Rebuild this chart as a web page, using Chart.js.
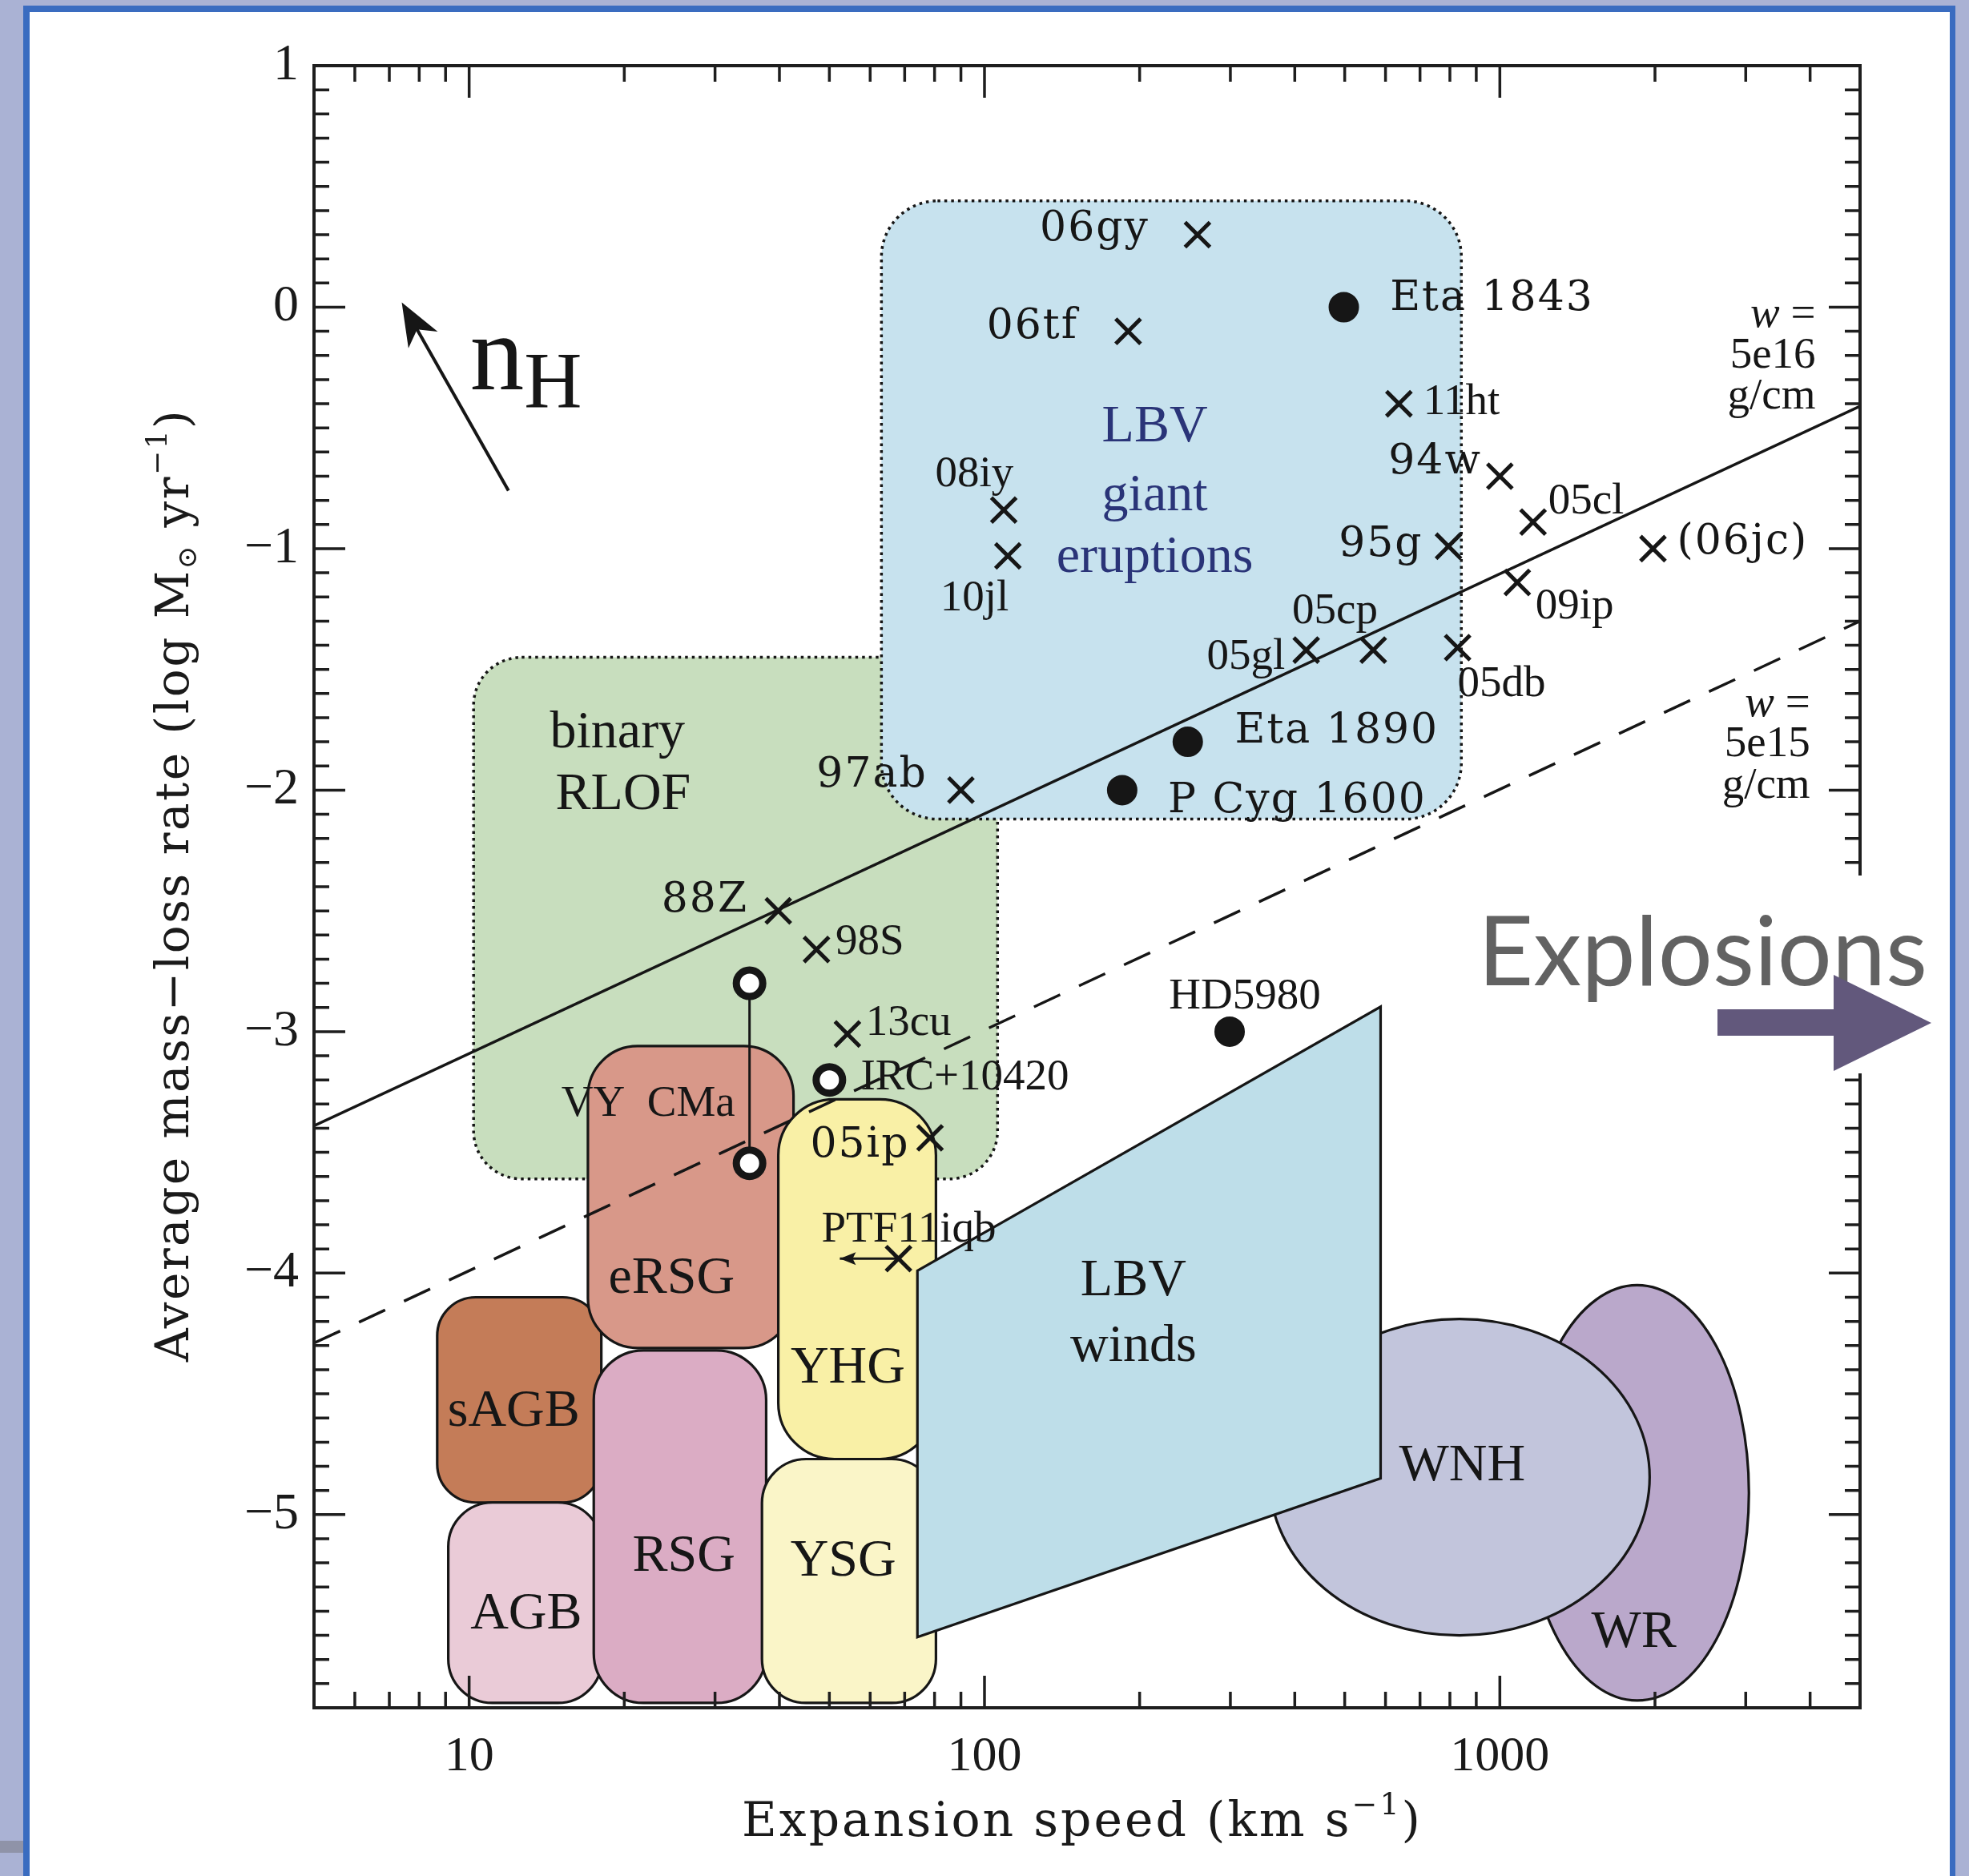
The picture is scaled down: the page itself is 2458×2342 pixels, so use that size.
<!DOCTYPE html>
<html>
<head>
<meta charset="utf-8">
<script src="https://cdn.jsdelivr.net/npm/chart.js@4.4.1/dist/chart.umd.min.js"></script>
<style>
  html, body { margin: 0; padding: 0; background: #aab2d4; }
  canvas { display: block; }
</style>
</head>
<body>
<canvas id="c" width="2458" height="2342"></canvas>
<script>
// ---------------------------------------------------------------------------
// Data: expansion speed (km/s) versus average mass-loss rate (log Msun/yr)
// ---------------------------------------------------------------------------
const xTickValues = [10, 100, 1000];
const yTickValues = [1, 0, -1, -2, -3, -4, -5];

// objects marked with a cross
const crossNames = ['06gy', '06tf', '11ht', '94w', '05cl', '(06jc)', '95g', '09ip', '08iy', '10jl',
                    '05gl', '05cp', '05db', '97ab', '88Z', '98S', '13cu', '05ip', 'PTF11iqb'];
const crossSpeed = [259, 190, 637, 1000, 1160, 1982, 795, 1081, 109, 111,
                    421, 568, 828, 90, 39.8, 47.2, 54.2, 78.4, 68.1];
const crossRate  = [0.30, -0.10, -0.40, -0.70, -0.89, -1.00, -0.99, -1.14, -0.84, -1.03,
                    -1.42, -1.42, -1.41, -2.00, -2.50, -2.66, -3.01, -3.44, -3.94];

// objects marked with a filled dot
const dotNames = ['Eta 1843', 'Eta 1890', 'P Cyg 1600', 'HD5980'];
const dotSpeed = [498, 248, 185, 299];
const dotRate  = [0.00, -1.80, -2.00, -3.00];

// objects marked with an open ring (VY CMa has two estimates joined by a line)
const ringNames = ['VY CMa', 'VY CMa', 'IRC+10420'];
const ringSpeed = [35, 35, 50];
const ringRate  = [-2.80, -3.545, -3.20];

// lines of constant wind density parameter w
const windSpeed  = [5, 5000];
const windRate16 = [-3.39, -0.41];   // w = 5e16 g/cm
const windRate15 = [-4.29, -1.30];   // w = 5e15 g/cm

// PTF11iqb speed range arrow
const ptfArrowSpeed = [68.1, 52.4];
const ptfArrowRate  = [-3.94, -3.94];

// direction of increasing density n_H
const nHArrowSpeed = [11.92, 7.40];
const nHArrowRate  = [-0.76, 0.02];

// rounded-box regions
const boxNames   = ['binary RLOF', 'LBV giant eruptions', 'sAGB', 'AGB', 'RSG', 'eRSG', 'YSG', 'YHG'];
const boxSpeedLo = [10.2, 63.1, 8.67, 9.11, 17.45, 17.0, 37.0, 39.8];
const boxSpeedHi = [106, 842, 18.05, 18.1, 37.7, 42.6, 80.5, 80.5];
const boxRateLo  = [-3.61, -2.12, -4.95, -5.78, -5.78, -4.31, -5.78, -4.77];
const boxRateHi  = [-1.45, 0.44, -4.10, -4.95, -4.32, -3.06, -4.77, -3.28];

// oval regions
const ovalNames   = ['WR', 'WNH'];
const ovalSpeedLo = [1121, 357];
const ovalSpeedHi = [3043, 1953];
const ovalRateLo  = [-5.77, -5.50];
const ovalRateHi  = [-4.05, -4.19];

// LBV winds quadrilateral
const lbvWindSpeed = [74.1, 587, 587, 74.1];
const lbvWindRate  = [-3.99, -2.897, -4.85, -5.507];

// ---------------------------------------------------------------------------
// Styling
// ---------------------------------------------------------------------------
const boxStyle = {
  'binary RLOF':         { fill: '#c8debe', dotted: true,  r: 60 },
  'LBV giant eruptions': { fill: '#c7e2ee', dotted: true,  r: 70 },
  'sAGB':                { fill: '#c47c58', dotted: false, r: 48 },
  'AGB':                 { fill: '#eacbd7', dotted: false, r: 55 },
  'RSG':                 { fill: '#dbacc4', dotted: false, r: 62 },
  'eRSG':                { fill: '#d89889', dotted: false, r: 62 },
  'YSG':                 { fill: '#faf5c8', dotted: false, r: 55 },
  'YHG':                 { fill: '#f9f0a6', dotted: false, r: 70 }
};
const ovalFill = { 'WR': '#baa8cb', 'WNH': '#c2c5dc' };
const lbvWindFill = '#bedee9';
const ink = '#161616';

const SERIF = '"Liberation Serif", "Times New Roman", serif';
const WIDE = '"DejaVu Serif", serif';
const textKinds = {
  big:      { font: '52px ' + WIDE,  cap: 0.365 * 52, color: ink, spacing: '2px' },
  small:    { font: '55px ' + SERIF, cap: 0.33 * 55,  color: ink, spacing: '0px' },
  region:   { font: '66px ' + SERIF, cap: 0.33 * 66,  color: ink, spacing: '0px' },
  eruption: { font: '66px ' + SERIF, cap: 0.33 * 66,  color: '#2a3478', spacing: '0px' }
};

// text annotations: [text, speed, rate, align, kind]
const notes = [
  ['06gy', 209, 0.34, 'right', 'big'],
  ['06tf', 152, -0.065, 'right', 'big'],
  ['Eta 1843', 612, 0.05, 'left', 'big'],
  ['94w', 923, -0.625, 'right', 'big'],
  ['95g', 710, -0.967, 'right', 'big'],
  ['(06jc)', 2206, -0.957, 'left', 'big'],
  ['Eta 1890', 306, -1.741, 'left', 'big'],
  ['P Cyg 1600', 227, -2.027, 'left', 'big'],
  ['97ab', 77.5, -1.924, 'right', 'big'],
  ['88Z', 34.8, -2.44, 'right', 'big'],
  ['05ip', 45.9, -3.454, 'left', 'big'],
  ['11ht', 710, -0.384, 'left', 'small'],
  ['05cl', 1241, -0.795, 'left', 'small'],
  ['09ip', 1172, -1.227, 'left', 'small'],
  ['08iy', 95.6, -0.68, 'center', 'small'],
  ['10jl', 95.6, -1.195, 'center', 'small'],
  ['05cp', 478.6, -1.248, 'center', 'small'],
  ['05gl', 383, -1.436, 'right', 'small'],
  ['05db', 828, -1.55, 'left', 'small'],
  ['98S', 51.4, -2.62, 'left', 'small'],
  ['13cu', 58.8, -2.955, 'left', 'small'],
  ['IRC+10420', 57.5, -3.18, 'left', 'small'],
  ['VY  CMa', 15.1, -3.29, 'left', 'small'],
  ['PTF11iqb', 71.3, -3.81, 'center', 'small'],
  ['HD5980', 320, -2.845, 'center', 'small'],
  ['LBV', 214, -0.485, 'center', 'eruption'],
  ['giant', 214, -0.77, 'center', 'eruption'],
  ['eruptions', 214, -1.023, 'center', 'eruption'],
  ['binary', 19.4, -1.75, 'center', 'region'],
  ['RLOF', 19.9, -2.007, 'center', 'region'],
  ['eRSG', 24.7, -4.01, 'center', 'region'],
  ['sAGB', 12.2, -4.56, 'center', 'region'],
  ['AGB', 12.9, -5.40, 'center', 'region'],
  ['RSG', 26.1, -5.16, 'center', 'region'],
  ['YHG', 54.3, -4.38, 'center', 'region'],
  ['YSG', 53.2, -5.18, 'center', 'region'],
  ['LBV', 194.5, -4.02, 'center', 'region'],
  ['winds', 194.5, -4.29, 'center', 'region'],
  ['WNH', 845, -4.785, 'center', 'region'],
  ['WR', 1820, -5.475, 'center', 'region'],
  ['5e16', 4100, -0.19, 'right', 'small'],
  ['g/cm', 4100, -0.36, 'right', 'small'],
  ['5e15', 4000, -1.80, 'right', 'small'],
  ['g/cm', 4000, -1.97, 'right', 'small']
];
// "w =" headers of the two density labels: [speed, rate]
const wHeaders = [[4100, -0.02], [4000, -1.632]];

// ---------------------------------------------------------------------------
// Helpers
// ---------------------------------------------------------------------------
function roundRect(c, x1, y1, x2, y2, r) {
  r = Math.min(r, (x2 - x1) / 2, (y2 - y1) / 2);
  c.beginPath();
  c.moveTo(x1 + r, y1);
  c.lineTo(x2 - r, y1);
  c.arcTo(x2, y1, x2, y1 + r, r);
  c.lineTo(x2, y2 - r);
  c.arcTo(x2, y2, x2 - r, y2, r);
  c.lineTo(x1 + r, y2);
  c.arcTo(x1, y2, x1, y2 - r, r);
  c.lineTo(x1, y1 + r);
  c.arcTo(x1, y1, x1 + r, y1, r);
  c.closePath();
}

// draws a run of [text, fontSize, dy] pieces centred on x (baseline y)
function drawRun(c, pieces, family, x, y, spacing) {
  c.letterSpacing = spacing || '0px';
  let total = 0;
  for (const p of pieces) { c.font = p[1] + 'px ' + family; total += c.measureText(p[0]).width; }
  let cx = x - total / 2;
  c.textAlign = 'left';
  c.textBaseline = 'alphabetic';
  for (const p of pieces) {
    c.font = p[1] + 'px ' + family;
    c.fillText(p[0], cx, y + p[2]);
    cx += c.measureText(p[0]).width;
  }
  c.letterSpacing = '0px';
}

function arrowHead(c, tx, ty, fx, fy, len, half, notch) {
  const dx = tx - fx, dy = ty - fy, L = Math.hypot(dx, dy);
  const ux = dx / L, uy = dy / L, px = -uy, py = ux;
  const bx = tx - ux * len, by = ty - uy * len;
  c.beginPath();
  c.moveTo(tx, ty);
  c.lineTo(bx + px * half, by + py * half);
  c.lineTo(tx - ux * len * notch, ty - uy * len * notch);
  c.lineTo(bx - px * half, by - py * half);
  c.closePath();
  c.fill();
}

// ---------------------------------------------------------------------------
// Plugins
// ---------------------------------------------------------------------------
const pagePlugin = {
  id: 'page',
  beforeDraw(chart) {
    const c = chart.ctx, W = chart.width, H = chart.height;
    c.save();
    c.fillStyle = '#aab2d4'; c.fillRect(0, 0, W, H);
    c.fillStyle = '#3a6cc0'; c.fillRect(29, 7, 2441 - 29, H - 7);
    c.fillStyle = '#ffffff'; c.fillRect(37, 15, 2434 - 37, H - 15);
    c.fillStyle = '#8f93a8'; c.fillRect(0, 2298, 29, 15);
    c.restore();
  }
};

const regionPlugin = {
  id: 'regions',
  beforeDatasetsDraw(chart) {
    const c = chart.ctx, a = chart.chartArea, X = chart.scales.x, Y = chart.scales.y;
    c.save();
    c.beginPath(); c.rect(a.left, a.top, a.right - a.left, a.bottom - a.top); c.clip();
    c.strokeStyle = ink;

    const box = i => {
      const s = boxStyle[boxNames[i]];
      const x1 = X.getPixelForValue(boxSpeedLo[i]), x2 = X.getPixelForValue(boxSpeedHi[i]);
      const y1 = Y.getPixelForValue(boxRateHi[i]), y2 = Y.getPixelForValue(boxRateLo[i]);
      roundRect(c, x1, y1, x2, y2, s.r);
      c.fillStyle = s.fill; c.fill();
      if (s.dotted) { c.setLineDash([3.5, 5]); c.lineWidth = 3.5; }
      else { c.setLineDash([]); c.lineWidth = 3.2; }
      c.stroke();
      c.setLineDash([]);
    };
    const oval = i => {
      const x1 = X.getPixelForValue(ovalSpeedLo[i]), x2 = X.getPixelForValue(ovalSpeedHi[i]);
      const y1 = Y.getPixelForValue(ovalRateHi[i]), y2 = Y.getPixelForValue(ovalRateLo[i]);
      c.beginPath();
      c.ellipse((x1 + x2) / 2, (y1 + y2) / 2, (x2 - x1) / 2, (y2 - y1) / 2, 0, 0, Math.PI * 2);
      c.fillStyle = ovalFill[ovalNames[i]]; c.fill();
      c.lineWidth = 3.2; c.stroke();
    };

    box(0); box(1);
    oval(0); oval(1);
    for (let i = 2; i < boxNames.length; i++) box(i);

    c.beginPath();
    lbvWindSpeed.forEach((v, k) => {
      const px = X.getPixelForValue(v), py = Y.getPixelForValue(lbvWindRate[k]);
      if (k === 0) c.moveTo(px, py); else c.lineTo(px, py);
    });
    c.closePath();
    c.fillStyle = lbvWindFill; c.fill();
    c.lineWidth = 3.2; c.stroke();
    c.restore();
  }
};

const overlayPlugin = {
  id: 'overlay',
  afterDatasetsDraw(chart) {
    const c = chart.ctx, a = chart.chartArea, X = chart.scales.x, Y = chart.scales.y;
    c.save();

    // frame with inward ticks on all four sides
    c.strokeStyle = '#1e1e1e';
    c.lineWidth = 4;
    c.strokeRect(a.left, a.top, a.right - a.left, a.bottom - a.top);
    c.lineWidth = 3.5;
    c.beginPath();
    for (let d = 1; d <= 1000; d *= 10) {
      for (let k = 1; k < 10; k++) {
        const v = k * d;
        if (v <= X.min || v >= X.max) continue;
        const px = X.getPixelForValue(v), len = k === 1 ? 40 : 20;
        c.moveTo(px, a.bottom); c.lineTo(px, a.bottom - len);
        c.moveTo(px, a.top); c.lineTo(px, a.top + len);
      }
    }
    for (let i = -57; i <= 9; i++) {
      const py = Y.getPixelForValue(i / 10), len = i % 10 === 0 ? 39 : 19;
      c.moveTo(a.left, py); c.lineTo(a.left + len, py);
      c.moveTo(a.right, py); c.lineTo(a.right - len, py);
    }
    c.stroke();

    // arrowhead of the PTF11iqb speed range
    c.fillStyle = ink;
    arrowHead(c, X.getPixelForValue(ptfArrowSpeed[1]), Y.getPixelForValue(ptfArrowRate[1]),
              X.getPixelForValue(ptfArrowSpeed[0]), Y.getPixelForValue(ptfArrowRate[0]), 20, 8, 0.8);

    // n_H direction arrow
    const tx = X.getPixelForValue(nHArrowSpeed[1]), ty = Y.getPixelForValue(nHArrowRate[1]);
    const fx = X.getPixelForValue(nHArrowSpeed[0]), fy = Y.getPixelForValue(nHArrowRate[0]);
    c.strokeStyle = ink; c.lineWidth = 4;
    c.beginPath(); c.moveTo(fx, fy); c.lineTo(tx - (tx - fx) * 0.12, ty - (ty - fy) * 0.12); c.stroke();
    arrowHead(c, tx, ty, fx, fy, 54, 21, 0.72);

    c.fillStyle = ink;
    c.textAlign = 'left'; c.textBaseline = 'alphabetic';
    c.font = '135px ' + SERIF;
    const nx = X.getPixelForValue(10.04), ny = Y.getPixelForValue(-0.34);
    c.fillText('n', nx, ny);
    const nw = c.measureText('n').width;
    c.font = '100px ' + SERIF;
    c.fillText('H', nx + nw, ny + 22);

    // labels
    for (const [t, sx, sy, align, kind] of notes) {
      const k = textKinds[kind];
      c.font = k.font; c.fillStyle = k.color; c.letterSpacing = k.spacing;
      c.textAlign = align; c.textBaseline = 'alphabetic';
      c.fillText(t, X.getPixelForValue(sx), Y.getPixelForValue(sy) + k.cap);
    }
    c.letterSpacing = '0px';

    // "w =" headers (italic w)
    for (const [sx, sy] of wHeaders) {
      const rx = X.getPixelForValue(sx), by = Y.getPixelForValue(sy) + textKinds.small.cap;
      c.fillStyle = ink; c.textAlign = 'right';
      c.font = '55px ' + SERIF;
      c.fillText(' =', rx, by);
      const eqw = c.measureText(' =').width;
      c.font = 'italic 55px ' + SERIF;
      c.fillText('w', rx - eqw, by);
    }
    c.restore();
  },
  afterDraw(chart) {
    const c = chart.ctx, a = chart.chartArea;
    c.save();
    c.fillStyle = '#1a1a1a';

    // axis titles
    const cx = (a.left + a.right) / 2 - 6;
    drawRun(c, [['Expansion speed (km s', 60, 0], ['\u22121', 38, -27], [')', 60, 0]],
            WIDE, cx, a.bottom + 160, '3px');

    c.save();
    c.translate(a.left - 157, (a.top + a.bottom) / 2 - 2);
    c.rotate(-Math.PI / 2);
    drawRun(c, [['Average mass\u2212loss rate (log M', 58, 0], ['\u2299', 34, 10],
                [' yr', 58, 0], ['\u22121', 36, -27], [')', 58, 0]],
            WIDE, 0, 0, '2.5px');
    c.restore();

    // "Explosions" call-out
    c.fillStyle = '#ffffff';
    c.fillRect(1835, 1093, 2432 - 1835, 1340 - 1093);
    c.fillStyle = '#626262';
    c.textAlign = 'left'; c.textBaseline = 'alphabetic';
    let size = 118;
    c.font = size + 'px Lato, "Open Sans", sans-serif';
    const w = c.measureText('Explosions').width;
    size = size * 561 / w;
    c.font = size + 'px Lato, "Open Sans", sans-serif';
    c.fillText('Explosions', 1845, 1230);

    c.fillStyle = '#62587c';
    c.fillRect(2144, 1260, 2290 - 2144, 1293 - 1260);
    c.beginPath();
    c.moveTo(2289, 1217); c.lineTo(2411, 1277); c.lineTo(2289, 1337); c.closePath();
    c.fill();
    c.restore();
  }
};

// ---------------------------------------------------------------------------
// Chart
// ---------------------------------------------------------------------------
const toXY = (xs, ys) => xs.map((v, i) => ({ x: v, y: ys[i] }));

new Chart(document.getElementById('c').getContext('2d'), {
  type: 'scatter',
  data: {
    datasets: [
      { label: 'crosses', data: toXY(crossSpeed, crossRate), pointStyle: 'crossRot',
        pointRadius: 22, borderWidth: 5, borderColor: ink, backgroundColor: ink },
      { label: 'dots', data: toXY(dotSpeed, dotRate), pointStyle: 'circle',
        pointRadius: 18, borderWidth: 2, borderColor: ink, backgroundColor: ink },
      { label: 'rings', data: toXY(ringSpeed, ringRate), pointStyle: 'circle',
        pointRadius: 16.5, borderWidth: 9, borderColor: ink, backgroundColor: '#ffffff' },
      { label: 'VY CMa range', data: toXY(ringSpeed.slice(0, 2), ringRate.slice(0, 2)),
        showLine: true, pointRadius: 0, borderWidth: 3, borderColor: ink },
      { label: 'PTF11iqb range', data: toXY(ptfArrowSpeed, ptfArrowRate),
        showLine: true, pointRadius: 0, borderWidth: 3, borderColor: ink },
      { label: 'w = 5e16 g/cm', data: toXY(windSpeed, windRate16),
        showLine: true, pointRadius: 0, borderWidth: 3.5, borderColor: ink },
      { label: 'w = 5e15 g/cm', data: toXY(windSpeed, windRate15),
        showLine: true, pointRadius: 0, borderWidth: 3.5, borderColor: ink, borderDash: [36, 26] }
    ]
  },
  options: {
    responsive: false,
    animation: false,
    events: [],
    layout: { padding: { left: 40, right: 136, top: 82, bottom: 0 } },
    plugins: { legend: { display: false }, tooltip: { enabled: false } },
    scales: {
      x: {
        type: 'logarithmic', min: 5, max: 5000, position: 'bottom',
        afterBuildTicks: s => { s.ticks = xTickValues.map(v => ({ value: v })); },
        afterFit: s => { s.height = 210; },
        grid: { display: false, drawTicks: false },
        border: { display: false },
        ticks: { padding: 25, autoSkip: false, maxRotation: 0, color: '#1a1a1a',
                 font: { family: SERIF, size: 62 }, callback: v => String(v) }
      },
      y: {
        type: 'linear', min: -5.8, max: 1.0,
        afterBuildTicks: s => { s.ticks = yTickValues.map(v => ({ value: v })); },
        afterFit: s => { s.width = 352; },
        grid: { display: false, drawTicks: false },
        border: { display: false },
        ticks: { padding: 19, color: '#1a1a1a', font: { family: SERIF, size: 64 },
                 callback: v => (v < 0 ? '\u2212' + (-v) : String(v)) }
      }
    }
  },
  plugins: [pagePlugin, regionPlugin, overlayPlugin]
});
</script>
</body>
</html>
